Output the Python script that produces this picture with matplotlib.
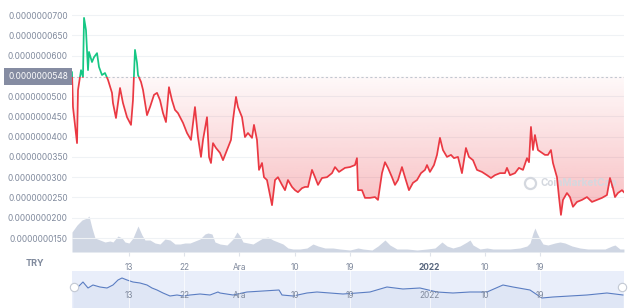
import numpy as np
import pandas as pd
import matplotlib
matplotlib.use('Agg')
import matplotlib.pyplot as plt
import matplotlib.transforms as mtransforms
from matplotlib.patches import Rectangle, PathPatch
from matplotlib.path import Path
from matplotlib.ticker import FuncFormatter

plt.rcParams['font.family'] = ['Inter', 'DejaVu Sans']

# time axis: days after this moment
start = pd.Timestamp('2021-11-03 17:00')

# price, in units of 1e-8 TRY
days = [0.00, 0.16, 0.82, 0.98, 1.47, 1.79, 1.96, 2.28, 2.61, 2.77, 3.26, 3.59, 4.08, 4.40, 4.89,
        5.38, 5.87, 6.52, 6.68, 7.17, 7.83, 8.31, 8.97, 9.62, 9.94, 10.27, 10.60, 10.76, 11.25, 11.58,
        12.23, 12.72, 13.37, 13.86, 14.35, 14.84, 15.32, 15.81, 16.30, 16.79, 17.28, 18.10, 18.75, 19.40,
        20.05, 20.54, 21.03, 21.36, 22.01, 22.34, 22.66, 22.99, 23.48, 24.13, 24.62, 25.27, 25.92, 26.25,
        26.74, 27.06, 27.72, 28.20, 28.69, 29.35, 29.67, 30.16, 30.49, 30.98, 31.30, 31.79, 32.12, 32.61,
        33.10, 33.58, 34.24, 34.73, 35.21, 35.87, 36.36, 36.84, 37.50, 37.99, 38.48, 39.13, 39.62, 40.11,
        40.76, 41.57, 42.39, 42.88, 43.53, 44.51, 45.32, 46.14, 46.46, 46.63, 47.28, 47.77, 48.58, 49.40,
        49.89, 50.54, 51.03, 51.52, 52.17, 52.66, 53.15, 53.80, 54.29, 54.94, 55.59, 56.25, 56.90, 57.55,
        57.88, 58.36, 59.02, 59.51, 59.99, 60.48, 61.14, 61.79, 62.28, 62.93, 63.58, 64.23, 64.72, 65.38,
        66.03, 66.84, 67.66, 68.31, 68.96, 69.78, 70.59, 70.92, 71.41, 72.22, 72.87, 73.53, 74.18, 74.51,
        74.83, 75.16, 75.48, 75.97, 76.62, 77.11, 77.60, 78.09, 78.42, 79.07, 79.40, 79.72, 80.05, 80.70,
        81.19, 81.68, 82.33, 83.15, 83.96, 84.78, 85.59, 86.41, 87.22, 87.71, 88.20, 88.53, 89.01, 89.67,
        89.99]
price = [5.59, 4.73, 3.84, 5.15, 5.64, 5.47, 6.93, 6.63, 5.64, 6.09, 5.84, 5.96, 6.06, 5.72, 5.52,
         5.57, 5.40, 5.08, 4.83, 4.46, 5.20, 4.83, 4.48, 4.29, 4.90, 6.14, 5.82, 5.52, 5.35, 5.15,
         4.53, 4.73, 5.03, 5.08, 4.90, 4.58, 4.36, 5.22, 4.90, 4.66, 4.58, 4.34, 4.09, 3.92,
         4.73, 3.99, 3.50, 3.92, 4.48, 3.50, 3.35, 3.84, 3.72, 3.60, 3.42, 3.67, 3.92, 4.41,
         4.98, 4.73, 4.48, 3.99, 4.09, 3.97, 4.29, 3.92, 3.18, 3.35, 3.00, 2.93, 2.68, 2.31,
         2.93, 3.00, 2.81, 2.68, 2.93, 2.76, 2.68, 2.63, 2.73, 2.76, 2.76, 3.18, 3.00, 2.81,
         2.98, 3.00, 3.10, 3.25, 3.13, 3.23, 3.25, 3.30, 3.47, 2.68, 2.68, 2.49, 2.49, 2.51,
         2.44, 3.10, 3.37, 3.23, 3.00, 2.81, 2.93, 3.25, 3.00, 2.68, 2.86, 2.93, 3.10, 3.18,
         3.30, 3.13, 3.30, 3.55, 3.97, 3.67, 3.50, 3.55, 3.47, 3.50, 3.10, 3.72, 3.50, 3.42,
         3.18, 3.13, 3.05, 2.98, 3.05, 3.10, 3.10, 3.23, 3.05, 3.10, 3.23, 3.18, 3.47, 3.37,
         4.24, 3.67, 4.04, 3.67, 3.60, 3.55, 3.55, 3.67, 3.35, 3.00, 2.51, 2.07, 2.44, 2.61,
         2.51, 2.27, 2.39, 2.44, 2.51, 2.39, 2.44, 2.49, 2.56, 2.98, 2.73, 2.51, 2.61, 2.68,
         2.63]
base_price = 5.48

# trading volume (relative units)
vol_days = [0.00, 0.82, 1.63, 2.45, 2.77, 3.26, 3.75, 4.56, 5.38, 6.20, 6.68, 7.50, 8.15, 8.64, 9.29,
            9.94, 10.76, 11.41, 11.90, 12.72, 13.53, 14.35, 15.16, 15.98, 16.79, 17.61, 18.42, 19.24,
            20.05, 20.87, 21.68, 22.17, 22.82, 23.31, 24.13, 25.27, 26.25, 26.90, 27.39, 27.88, 28.69,
            29.51, 30.32, 31.14, 31.95, 32.77, 33.58, 34.40, 35.21, 36.03, 37.17, 38.31, 39.29, 40.11,
            41.25, 42.55, 43.69, 45.32, 46.63, 47.44, 48.91, 49.89, 51.03, 51.84, 52.98, 54.62, 56.25,
            57.88, 59.18, 60.32, 61.14, 62.11, 63.26, 64.40, 64.89, 65.38, 66.52, 67.66, 68.64, 69.78,
            71.41, 73.04, 74.18, 74.67, 75.16, 75.48, 75.81, 76.30, 76.79, 77.60, 78.74, 79.56, 80.37,
            81.52, 82.82, 84.12, 85.59, 86.90, 88.04, 88.53, 89.34, 89.99]
volume = [20, 27, 32, 34, 36, 24, 14, 12, 10, 11, 10, 16, 14, 10, 9,
          14, 26, 17, 12, 12, 9, 8, 13, 12, 8, 8, 9, 9,
          11, 13, 18, 19, 18, 10, 8, 7, 13, 20, 16, 10, 9,
          8, 11, 14, 15, 12, 10, 8, 4, 3, 3, 4, 8, 6,
          4, 4, 3, 2, 4, 3, 2, 6, 12, 7, 3, 3, 2,
          3, 4, 10, 6, 4, 6, 10, 12, 7, 3, 4, 3, 3,
          3, 4, 6, 9, 19, 24, 19, 13, 8, 7, 9, 10, 9,
          6, 4, 3, 3, 3, 6, 7, 3, 3]

# navigator overview line (relative units)
nav_days = [0.16, 0.98, 1.79, 2.61, 3.42, 4.56, 5.71, 6.68, 7.50, 8.15, 8.97, 9.94, 11.09, 12.23,
            13.04, 13.86, 14.84, 15.98, 17.12, 18.10, 19.24, 20.87, 22.50, 23.80, 24.13, 26.25, 28.53,
            31.14, 33.75, 34.24, 36.03, 38.31, 39.94, 42.06, 44.18, 46.46, 48.58, 51.35, 53.96, 56.73,
            59.51, 62.11, 64.89, 67.66, 70.27, 71.90, 74.67, 76.62, 78.42, 81.19, 83.96, 87.22, 89.83]
nav_price = [20, 18, 23, 17, 20, 18, 17, 20, 25, 27, 25, 23, 22, 20,
             17, 15, 12, 9, 10, 9, 10, 11, 10, 13, 12, 10, 13,
             14, 15, 10, 9, 12, 13, 12, 11, 12, 13, 18, 16, 17,
             13, 12, 13, 13, 20, 18, 15, 7, 8, 9, 10, 12, 10]

tick_dates = ['2021-11-13', '2021-11-22', '2021-12-01', '2021-12-10', '2021-12-19',
              '2022-01-01', '2022-01-10', '2022-01-19']
tick_labels = ['13', '22', 'Ara', '10', '19', '2022', '10', '19']
y_ticks = [1.5, 2.0, 2.5, 3.0, 3.5, 4.0, 4.5, 5.0, 6.0, 6.5, 7.0]

tick_pos = [(pd.Timestamp(d) - start) / pd.Timedelta(days=1) for d in tick_dates]
days = np.array(days)
price = np.array(price)

red = '#ea3943'
green = '#16c784'
txt = '#808a9d'

fig = plt.figure(figsize=(6.4, 3.08), dpi=100)
rect = [72 / 640, 56 / 308, 552 / 640, 247 / 308]

# volume behind the price
ax_v = fig.add_axes(rect)
ax_v.fill_between(vol_days, volume, 0, color='#cfd6e3', lw=0)
ax_v.set_xlim(0, 90)
ax_v.set_ylim(0, 247)
ax_v.axis('off')

ax = fig.add_axes(rect)
ax.patch.set_alpha(0)
for t in y_ticks:
    ax.axhline(t, color='#eff2f5', lw=0.8, zorder=0)

# gradient under the baseline
poly = ax.fill_between(days, price, base_price, where=price <= base_price, interpolate=True,
                       color='none', lw=0)
clip = PathPatch(Path.make_compound_path(*poly.get_paths()), transform=ax.transData,
                 facecolor='none', edgecolor='none')
ax.add_patch(clip)
grad = np.zeros((256, 1, 4))
grad[..., :3] = matplotlib.colors.to_rgb(red)
grad[:, 0, 3] = np.linspace(0.34, 0.03, 256)
im = ax.imshow(grad, extent=[0, 90, 2.0, base_price], aspect='auto', origin='lower', zorder=1)
im.set_clip_path(clip)

ax.axhline(base_price, color='#c2c7d0', lw=0.8, ls=(0, (2, 2)), zorder=2)

r, = ax.plot(days, price, color=red, lw=1.25, zorder=3)
r.set_clip_path(Rectangle((0, -10), 90, base_price + 10, transform=ax.transData))
g, = ax.plot(days, price, color=green, lw=1.25, zorder=4)
g.set_clip_path(Rectangle((0, base_price), 90, 10, transform=ax.transData))

# watermark
ax.plot(74.6, 2.86, marker='o', ms=8, mfc='none', mec='#d4d8df', mew=1.6, zorder=2)
ax.text(76.4, 2.86, 'CoinMarketCap', fontsize=7.2, fontweight='bold', color='#d4d8df',
        va='center', zorder=2)

ax.set_xlim(0, 90)
ax.set_ylim(1.155, 7.247)
ax.set_yticks(y_ticks)
ax.yaxis.set_major_formatter(FuncFormatter(lambda v, p: f"{v * 1e-8:.10f}"))
ax.set_xticks(tick_pos, tick_labels)
ax.tick_params(axis='y', length=0, labelsize=6, labelcolor=txt, pad=3)
ax.tick_params(axis='x', length=3, color='#dfe3ea', labelsize=6, labelcolor=txt, pad=5)
for lab in ax.get_xticklabels():
    if lab.get_text() == '2022':
        lab.set_fontweight('bold')
        lab.set_color('#58667e')
for s in ax.spines.values():
    s.set_visible(False)

trans = mtransforms.blended_transform_factory(ax.transAxes, ax.transData)
ax.text(-0.0072, base_price, f"{base_price * 1e-8:.10f}", transform=trans, ha='right', va='center',
        fontsize=6, color='white', zorder=6,
        bbox=dict(boxstyle='square,pad=0.45', fc='#858ca2', ec='none'))

fig.text(35 / 640, 1 - 263 / 308, 'TRY', ha='center', va='center', fontsize=6.5,
         fontweight='bold', color=txt)

# navigator
ax_n = fig.add_axes([72 / 640, 0, 552 / 640, 37 / 308])
ax_n.set_facecolor('#e9eefa')
ax_n.fill_between(nav_days, nav_price, -3, color='#dfe6f5', lw=0)
ax_n.plot(nav_days, nav_price, color='#5a7dc2', lw=0.8)
for p in tick_pos:
    ax_n.axvline(p, color='white', lw=0.6, alpha=0.8)
for p, lab in zip(tick_pos, tick_labels):
    ax_n.text(p, 9, lab, ha='center', va='center', fontsize=6, color=txt)
ax_n.plot([0.3, 89.7], [18, 18], 'o', ms=6, mfc='white', mec='#c3c9d4', mew=0.8,
          clip_on=False, zorder=5)
ax_n.set_xlim(0, 90)
ax_n.set_ylim(-3, 34)
ax_n.set_xticks([])
ax_n.set_yticks([])
for s in ax_n.spines.values():
    s.set_visible(False)

fig.savefig('out.png', dpi=100)
